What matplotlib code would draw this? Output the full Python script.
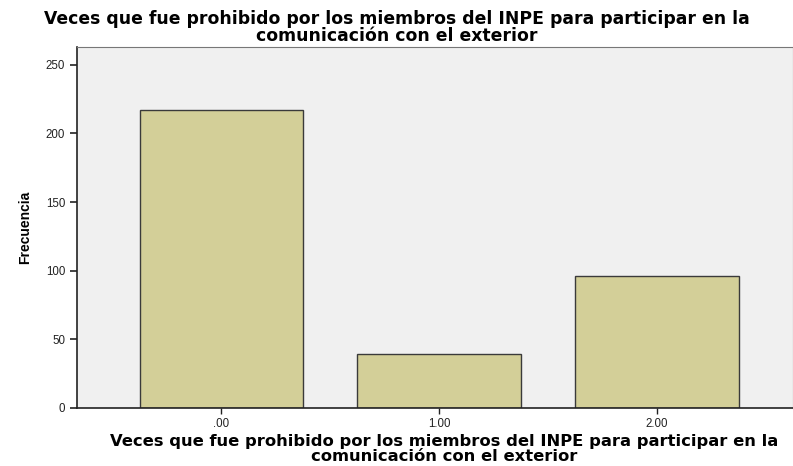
import matplotlib.pyplot as plt

categorias = [".00", "1.00", "2.00"]
frecuencias = [217, 39, 96]
yticks = [0, 50, 100, 150, 200, 250]

titulo = "Veces que fue prohibido por los miembros del INPE para participar en la\ncomunicación con el exterior"

plt.rcParams['font.family'] = ['Liberation Sans', 'DejaVu Sans']

fig = plt.figure(figsize=(7.93, 4.66), dpi=100)
ax = fig.add_axes([77 / 793, 58 / 466, 1 - 77 / 793, 361 / 466])
ax.set_facecolor("#f0f0f0")

pos = list(range(len(categorias)))
ax.bar(pos, frecuencias, width=0.75, color="#d3cf98", edgecolor="#3a3a3a", linewidth=1.0, zorder=2)

ax.set_xlim(-0.663, 2.625)
ax.set_ylim(0, 263)
ax.set_xticks(pos)
ax.set_xticklabels(categorias)
ax.set_yticks(yticks)
ax.tick_params(axis="both", labelsize=8.3, colors="#222222", direction="out")
ax.tick_params(axis="y", length=5, width=1.2)
ax.tick_params(axis="x", length=4, width=1.0)

for s in ["top", "right"]:
    ax.spines[s].set_color("#777777")
for s in ["left", "bottom"]:
    ax.spines[s].set_color("#222222")
    ax.spines[s].set_linewidth(1.2)

ax.set_ylabel("Frecuencia", fontsize=10, fontweight="bold",
              family=['Liberation Sans Narrow', 'Liberation Sans', 'DejaVu Sans'], labelpad=10)
ax.set_xlabel(titulo, fontsize=11.8, fontweight="bold", family="DejaVu Sans",
              linespacing=1.0)
ax.xaxis.set_label_coords(0.5126, -0.071, transform=ax.transAxes)
ax.xaxis.label.set_va("top")
fig.text(0.5, 0.978, titulo, ha="center", va="top", fontsize=12.4, fontweight="bold",
         family="DejaVu Sans", linespacing=0.9)

fig.savefig("out.png", dpi=100)
